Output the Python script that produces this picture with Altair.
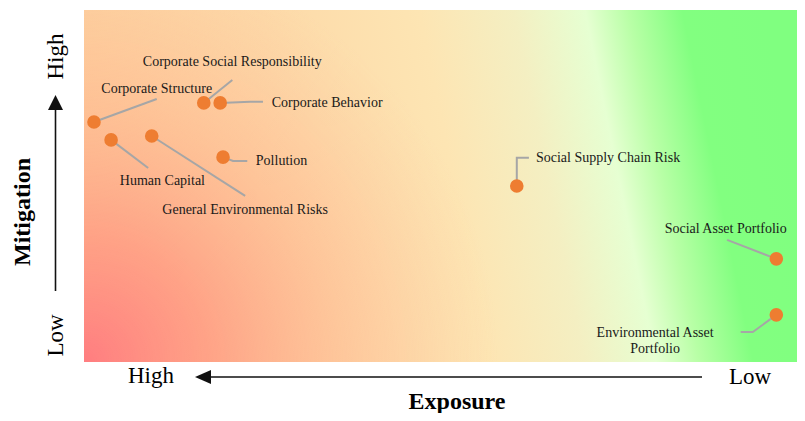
import altair as alt
import pandas as pd

# ---- data -------------------------------------------------------------
names = ["Corporate Structure", "Human Capital", "General Environmental Risks",
         "Corporate Social Responsibility", "Corporate Behavior", "Pollution",
         "Social Supply Chain Risk", "Social Asset Portfolio",
         "Environmental Asset Portfolio"]
exposure = [98.6, 96.2, 90.5, 83.2, 80.9, 80.5, 39.3, 2.9, 2.9]
mitigation = [68.2, 63.1, 64.2, 73.6, 73.6, 58.2, 50.0, 29.3, 13.4]

label_text = ["Corporate Structure", "Human Capital", "General Environmental Risks",
              "Corporate Social Responsibility", "Corporate Behavior", "Pollution",
              "Social Supply Chain Risk", "Social Asset Portfolio",
              "Environmental Asset\nPortfolio"]
label_exposure = [89.8, 89.0, 77.4, 79.2, 65.9, 72.3, 26.5, 10.0, 19.9]
label_mitigation = [77.6, 51.4, 43.2, 85.2, 73.6, 57.1, 58.0, 37.8, 8.2]

# leader-line vertices (after the point itself)
leader_exposure = [[89.8], [91.0], [77.4], [79.2], [76.7, 74.9], [79.1, 77.1],
                   [39.3, 37.6], [9.8], [6.2, 7.9]]
leader_mitigation = [[74.7], [55.1], [47.2], [80.1], [73.9, 73.9], [57.1, 57.1],
                     [58.0, 58.0], [34.7], [8.5, 8.5]]

x_end_labels = ["High", "Low"]
y_end_labels = ["High", "Low"]
x_title = "Exposure"
y_title = "Mitigation"

# ---- tables -----------------------------------------------------------
pts = pd.DataFrame({"name": names, "exposure": exposure, "mitigation": mitigation})
labels = pd.DataFrame({"text": label_text, "exposure": label_exposure,
                       "mitigation": label_mitigation})
rows = []
for i, n in enumerate(names):
    rows.append({"name": n, "order": 0, "exposure": exposure[i], "mitigation": mitigation[i]})
    for j, (ex, mi) in enumerate(zip(leader_exposure[i], leader_mitigation[i])):
        rows.append({"name": n, "order": j + 1, "exposure": ex, "mitigation": mi})
leaders = pd.DataFrame(rows)
one = pd.DataFrame({"k": [0]})

W, H = 713, 352
FONT = "Liberation Serif"

xs = alt.X("exposure:Q", scale=alt.Scale(domain=[0, 100], reverse=True, nice=False, zero=False), axis=None)
ys = alt.Y("mitigation:Q", scale=alt.Scale(domain=[0, 100], nice=False, zero=False), axis=None)

lin = alt.LinearGradient(
    gradient="linear", x1=0, y1=0.55, x2=1, y2=0.45,
    stops=[
        alt.GradientStop(color="#fdcf9d", offset=0),
        alt.GradientStop(color="#fdd9a8", offset=0.3),
        alt.GradientStop(color="#fde5b3", offset=0.52),
        alt.GradientStop(color="#f4efc2", offset=0.65),
        alt.GradientStop(color="#e6ffd2", offset=0.75),
        alt.GradientStop(color="#b8ffa6", offset=0.81),
        alt.GradientStop(color="#82ff80", offset=0.885),
        alt.GradientStop(color="#80ff80", offset=1),
    ])
rad = alt.RadialGradient(
    gradient="radial", x1=0, y1=0.5, r1=0, x2=0, y2=0.5, r2=0.58,
    stops=[
        alt.GradientStop(color="rgba(255,125,128,1)", offset=0),
        alt.GradientStop(color="rgba(255,150,128,0.8)", offset=0.3),
        alt.GradientStop(color="rgba(255,172,136,0.45)", offset=0.6),
        alt.GradientStop(color="rgba(255,190,150,0)", offset=1),
    ])

bg = alt.Chart(one).mark_rect(fill=lin).encode(
    x=alt.value(0), x2=alt.value(W), y=alt.value(0), y2=alt.value(H))
overlay = alt.Chart(one).mark_rect(fill=rad, clip=True).encode(
    x=alt.value(0), x2=alt.value(W), y=alt.value(0), y2=alt.value(2 * H))

lead = alt.Chart(leaders).mark_line(color="#a6a6a6", strokeWidth=2).encode(
    x=xs, y=ys, detail="name:N", order="order:Q")
dots = alt.Chart(pts).mark_circle(size=185, color="#ee7d31", opacity=1).encode(x=xs, y=ys)
txt = alt.Chart(labels).mark_text(font=FONT, fontSize=14, color="#1a1a1a", align="center",
                                  baseline="middle", lineBreak="\n", lineHeight=16).encode(
    x=xs, y=ys, text="text:N")

# axis arrows
xrule = alt.Chart(one).mark_rule(color="#111", strokeWidth=1.6).encode(
    x=alt.value(127), x2=alt.value(618), y=alt.value(367))
xhead = alt.Chart(one).mark_point(shape="M -1 0 L 1 -0.875 L 1 0.875 Z", size=256, filled=True,
                                  color="#111", opacity=1, strokeWidth=0).encode(
    x=alt.value(119), y=alt.value(367))
yrule = alt.Chart(one).mark_rule(color="#111", strokeWidth=1.6).encode(
    x=alt.value(-28.5), y=alt.value(100), y2=alt.value(281))
yhead = alt.Chart(one).mark_point(shape="M 0 -0.9375 L -0.9375 0.9375 L 0.9375 0.9375 Z", size=256,
                                  filled=True, color="#111", opacity=1, strokeWidth=0).encode(
    x=alt.value(-28.5), y=alt.value(92.5))

def label(text, x, y, size, bold=False, angle=0, baseline="middle"):
    kw = dict(font=FONT, fontSize=size, color="#000", align="center", baseline=baseline)
    if bold:
        kw["fontWeight"] = "bold"
    if angle:
        kw["angle"] = angle
    return alt.Chart(pd.DataFrame({"t": [text]})).mark_text(**kw).encode(
        text="t:N", x=alt.value(x), y=alt.value(y))

xl_high = label(x_end_labels[0], 67, 366, 23)
xl_low = label(x_end_labels[1], 666, 367, 23)
xt = label(x_title, 373, 399, 24, bold=True, baseline="alphabetic")
yl_high = label(y_end_labels[0], -28, 46.5, 23, angle=270)
yl_low = label(y_end_labels[1], -28, 325.5, 23, angle=270)
yt = label(y_title, -61, 202, 24, bold=True, angle=270)

chart = alt.layer(
    bg, overlay, lead, dots, txt, xrule, xhead, yrule, yhead,
    xl_high, xl_low, xt, yl_high, yl_low, yt
).properties(
    width=W, height=H,
    autosize=alt.AutoSizeParams(type="none"),
    padding={"left": 76, "top": 2, "right": 0, "bottom": 51},
    background="white",
).configure_view(stroke=None)

chart.save("out.html", embed_options={"renderer": "svg", "actions": False})
